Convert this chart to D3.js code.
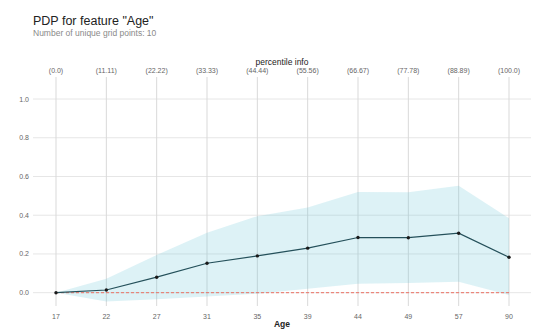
<!DOCTYPE html>
<html>
<head>
<meta charset="utf-8">
<script src="https://cdn.jsdelivr.net/npm/d3@7"></script>
<style>
  body { margin: 0; background: #fff; }
  text { font-family: "Liberation Sans", Arial, sans-serif; }
</style>
</head>
<body>
<div id="chart"></div>
<script>
// data
var ages = ['17', '22', '27', '31', '35', '39', '44', '49', '57', '90'];
var percentiles = ['(0.0)', '(11.11)', '(22.22)', '(33.33)', '(44.44)', '(55.56)', '(66.67)', '(77.78)', '(88.89)', '(100.0)'];
var pdp = [0.0, 0.014, 0.08, 0.152, 0.19, 0.23, 0.285, 0.284, 0.307, 0.183];
var upper = [0.0, 0.072, 0.195, 0.31, 0.395, 0.44, 0.52, 0.518, 0.552, 0.385];
var lower = [0.0, -0.046, -0.034, -0.02, -0.005, 0.02, 0.046, 0.05, 0.057, -0.012];
var yTicks = [0.0, 0.2, 0.4, 0.6, 0.8, 1.0];

var width = 550, height = 335;
var svg = d3.select('#chart').append('svg')
    .attr('width', width)
    .attr('height', height);

var x = d3.scalePoint().domain(ages).range([56, 509]);
var y = d3.scaleLinear().domain([0, 1]).range([292.7, 99]);

// title
svg.append('text')
    .attr('x', 33).attr('y', 25)
    .style('font-size', '12.5px').style('fill', '#222')
    .text('PDP for feature "Age"');
svg.append('text')
    .attr('x', 33).attr('y', 35.5)
    .style('font-size', '8.5px').style('fill', '#8a8a8a')
    .text('Number of unique grid points: 10');

// horizontal grid + y labels
svg.selectAll('.hgrid').data(yTicks).enter().append('line')
    .attr('x1', 33).attr('x2', 531)
    .attr('y1', function(d) { return y(d); })
    .attr('y2', function(d) { return y(d); })
    .style('stroke', '#e6e6e6').style('stroke-width', 1);
svg.selectAll('.ylab').data(yTicks).enter().append('text')
    .attr('x', 29).attr('y', function(d) { return y(d) + 2.5; })
    .attr('text-anchor', 'end')
    .style('font-size', '7px').style('fill', '#666')
    .text(function(d) { return d.toFixed(1); });

// vertical grid
svg.selectAll('.vgrid').data(ages).enter().append('line')
    .attr('x1', function(d) { return x(d); })
    .attr('x2', function(d) { return x(d); })
    .attr('y1', 77).attr('y2', 306)
    .style('stroke', '#d9d9d9').style('stroke-width', 1);

// confidence band
var area = d3.area()
    .x(function(d, i) { return x(ages[i]); })
    .y0(function(d, i) { return y(lower[i]); })
    .y1(function(d, i) { return y(upper[i]); });
svg.append('path')
    .datum(pdp)
    .attr('d', area)
    .style('fill', '#66c2d7').style('opacity', 0.22);

// zero line
svg.append('line')
    .attr('x1', x(ages[0])).attr('x2', x(ages[ages.length - 1]))
    .attr('y1', y(0)).attr('y2', y(0))
    .style('stroke', '#ec7063').style('stroke-width', 1)
    .style('stroke-dasharray', '3,2');

// pdp line
var line = d3.line()
    .x(function(d, i) { return x(ages[i]); })
    .y(function(d) { return y(d); });
svg.append('path')
    .datum(pdp)
    .attr('d', line)
    .style('fill', 'none').style('stroke', '#24505a').style('stroke-width', 1.2);
svg.selectAll('.pt').data(pdp).enter().append('circle')
    .attr('cx', function(d, i) { return x(ages[i]); })
    .attr('cy', function(d) { return y(d); })
    .attr('r', 1.7)
    .style('fill', '#1a1a1a');

// bottom x labels
svg.selectAll('.xlab').data(ages).enter().append('text')
    .attr('x', function(d) { return x(d); })
    .attr('y', 319)
    .attr('text-anchor', 'middle')
    .style('font-size', '7px').style('fill', '#666')
    .text(function(d) { return d; });
svg.append('text')
    .attr('x', 282).attr('y', 327)
    .attr('text-anchor', 'middle')
    .style('font-size', '8.5px').style('fill', '#222').style('font-weight', 'bold')
    .text('Age');

// top percentile labels
svg.selectAll('.plab').data(percentiles).enter().append('text')
    .attr('x', function(d, i) { return x(ages[i]); })
    .attr('y', 73)
    .attr('text-anchor', 'middle')
    .style('font-size', '7px').style('fill', '#666')
    .text(function(d) { return d; });
svg.append('text')
    .attr('x', 282).attr('y', 65)
    .attr('text-anchor', 'middle')
    .style('font-size', '8.5px').style('fill', '#222')
    .text('percentile info');
</script>
</body>
</html>
